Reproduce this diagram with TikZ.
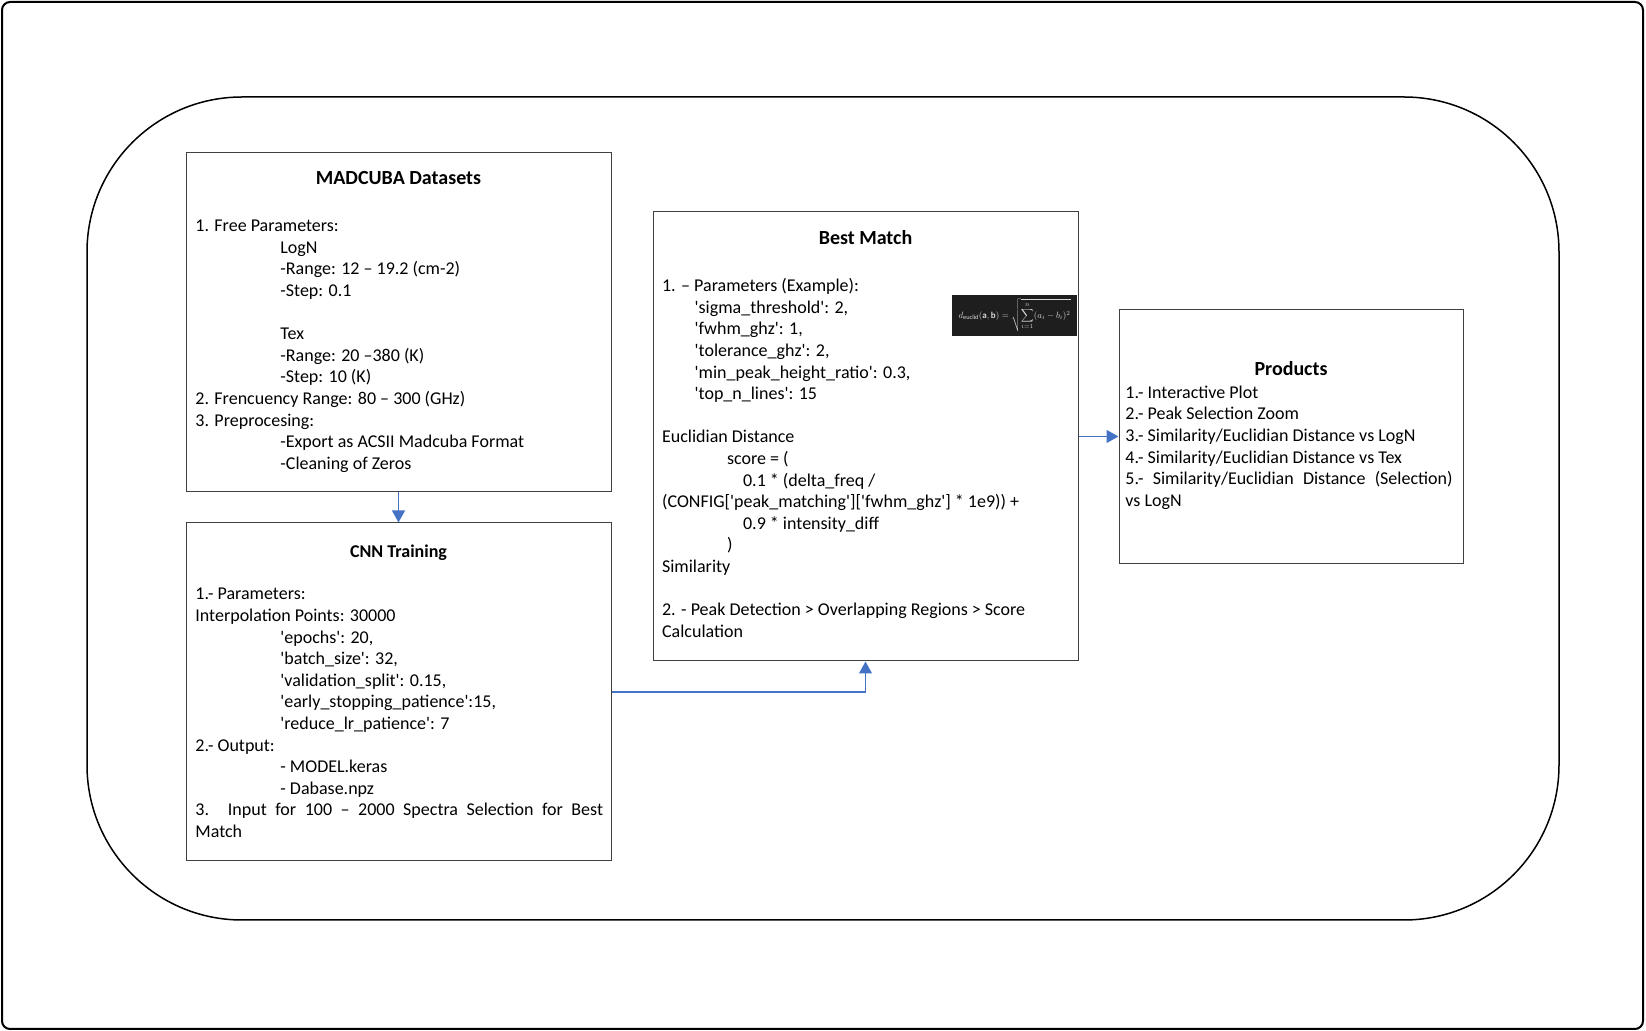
\documentclass[tikz,border=0pt]{standalone}
\usepackage{graphicx}
\usepackage{fontspec}
\setmainfont{Carlito}[Ligatures=TeXOff]
\usetikzlibrary{arrows.meta,fit}
\definecolor{arrowblue}{HTML}{4472C4}
\definecolor{boxgray}{HTML}{404040}
\definecolor{eqbg}{HTML}{1E1E1E}
\newdimen\pxu \pxu=0.5pt
\newcommand\txl[2]{\hbox{\kern#1\pxu\relax #2}}
\newcommand\jtl[2]{\hbox{\makebox[#1\pxu][s]{#2}}}
\newcommand\txblock[1]{\vtop{\lineskiplimit=-20pt\relax\baselineskip=10.8pt\relax #1}}
\begin{document}
\begin{tikzpicture}[x=0.5pt,y=-0.5pt,
  box/.style={draw=boxgray, line width=0.5pt, inner sep=0pt},
  ttl/.style={font=\fontsize{10}{12}\selectfont\bfseries, anchor=base, inner sep=0pt},
  ttlsmall/.style={font=\fontsize{9}{10.8}\selectfont\bfseries, anchor=base, inner sep=0pt},
  bodytxt/.style={anchor=base west, inner sep=0pt, font=\fontsize{9}{10.8}\selectfont},
  arr/.style={draw=arrowblue, line width=0.9pt, -{Triangle[width=6.4pt,length=6pt]}}]
\useasboundingbox (0,0) rectangle (1646,1031);
\fill[white] (0,0) rectangle (1646,1031);

% outer frame
\node[draw=black, line width=1pt, rounded corners=4pt, inner sep=0pt, fit={(2,2) (1643,1029)}] (frame) {};
% rounded container
\node[draw=black, line width=0.75pt, rounded corners=77.5pt, inner sep=0pt, fit={(87,97) (1559,920)}] (container) {};

% boxes
\node[box, fit={(186,153) (611,492)}] (mad) {};
\node[box, fit={(186,523) (611,861)}] (cnn) {};
\node[box, fit={(653,212) (1078,661)}] (best) {};
\node[box, fit={(1119,310) (1463,564)}] (prod) {};

% MADCUBA
\node[ttl] (madtitle) at (398.5,185) {MADCUBA Datasets};
\node[bodytxt] (madtext) at (195,231.7) {\txblock{%
  \txl{0}{1. Free Parameters:}
  \txl{85}{LogN}
  \txl{85}{-Range: 12 – 19.2 (cm-2)}
  \txl{85}{-Step: 0.1}
  \txl{85}{}
  \txl{85}{Tex}
  \txl{85}{-Range: 20 –380 (K)}
  \txl{85}{-Step: 10 (K)}
  \txl{0}{2. Frencuency Range: 80 – 300 (GHz)}
  \txl{0}{3. Preprocesing:}
  \txl{85}{-Export as ACSII Madcuba Format}
  \txl{85}{-Cleaning of Zeros}}};

% CNN
\node[ttlsmall] (cnntitle) at (398.5,557.7) {CNN Training};
\node[bodytxt] (cnntext) at (195,600) {\txblock{%
  \txl{0}{1.- Parameters:}
  \txl{0}{Interpolation Points: 30000}
  \txl{85}{'epochs': 20,}
  \txl{85}{'batch\_size': 32,}
  \txl{85}{'validation\_split': 0.15,}
  \txl{85}{'early\_stopping\_patience':15,}
  \txl{85}{'reduce\_lr\_patience': 7}
  \txl{0}{2.- Output:}
  \txl{85}{- MODEL.keras}
  \txl{85}{- Dabase.npz}
  \jtl{407.7}{3. Input for 100 – 2000 Spectra Selection for Best}
  \txl{0}{Match}}};

% Best Match
\node[ttl] (besttitle) at (865.5,245) {Best Match};
\node[bodytxt] (besttext) at (661.7,291.7) {\txblock{%
  \txl{0}{1. – Parameters (Example):}
  \txl{32.6}{'sigma\_threshold': 2,}
  \txl{32.6}{'fwhm\_ghz': 1,}
  \txl{32.6}{'tolerance\_ghz': 2,}
  \txl{32.6}{'min\_peak\_height\_ratio': 0.3,}
  \txl{32.6}{'top\_n\_lines': 15}
  \txl{0}{}
  \txl{0}{Euclidian Distance}
  \txl{65}{score = (}
  \txl{81}{0.1 * (delta\_freq /}
  \txl{0}{(CONFIG['peak\_matching']['fwhm\_ghz'] * 1e9)) +}
  \txl{81}{0.9 * intensity\_diff}
  \txl{65}{)}
  \txl{0}{Similarity}
  \txl{0}{}
  \txl{0}{2. - Peak Detection > Overlapping Regions > Score}
  \txl{0}{Calculation}}};

% equation image
\node[fill=eqbg, inner sep=0pt, fit={(952,295) (1077,336)}] (eq) {};
\node[text=white!85!black, inner sep=0pt] (eqtxt) at (eq.center)
  {\resizebox{56pt}{!}{$\displaystyle d_{\mathrm{euclid}}(\mathbf{a},\mathbf{b})=\sqrt{\sum_{i=1}^{n}(a_i-b_i)^2}$}};

% Products
\node[ttl] (prodtitle) at (1291,376) {Products};
\node[bodytxt] (prodtext) at (1125,398.3) {\txblock{%
  \txl{0}{1.- Interactive Plot}
  \txl{0}{2.- Peak Selection Zoom}
  \txl{0}{3.- Similarity/Euclidian Distance vs LogN}
  \txl{0}{4.- Similarity/Euclidian Distance vs Tex}
  \jtl{327.3}{5.- Similarity/Euclidian Distance (Selection)}
  \txl{0}{vs LogN}}};

% connectors
\draw[arr] (mad.south) -- (cnn.north);
\draw[arr] (cnn.east) -| (best.south);
\draw[arr] (best.east) -- (best.east -| prod.west);
\end{tikzpicture}
\end{document}
